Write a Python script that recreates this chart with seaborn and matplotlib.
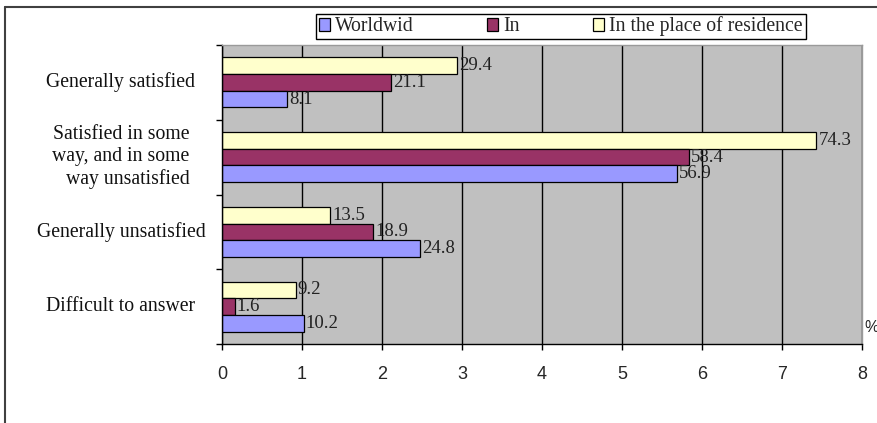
import numpy as np
import pandas as pd
import matplotlib
matplotlib.use("Agg")
import matplotlib.pyplot as plt
from matplotlib.patches import Patch
from matplotlib.lines import Line2D
from matplotlib.transforms import blended_transform_factory
import seaborn as sns

# Survey answers and the three series (percent)
categories = [
    "Generally satisfied",
    "Satisfied in some\nway, and in some\nway unsatisfied",
    "Generally unsatisfied",
    "Difficult to answer",
]
series_names = ["Worldwid", "In", "In the place of residence"]
worldwid = [8.1, 56.9, 24.8, 10.2]
in_country = [21.1, 58.4, 18.9, 1.6]
residence = [29.4, 74.3, 13.5, 9.2]
x_tick_values = [0, 10, 20, 30, 40, 50, 60, 70, 80]
x_tick_labels = ["0", "1", "2", "3", "4", "5", "6", "7", "8"]
colors = {"Worldwid": "#9999FF", "In": "#993366", "In the place of residence": "#FFFFCC"}

df = pd.DataFrame({
    "category": categories * 3,
    "series": [series_names[0]] * 4 + [series_names[1]] * 4 + [series_names[2]] * 4,
    "value": worldwid + in_country + residence,
})

sns.set_theme(style="white")
serif = "Liberation Serif"
sans = "Liberation Sans"

W, H = 877, 423
fig = plt.figure(figsize=(W / 100, H / 100), dpi=100)
fig.patch.set_facecolor("white")
ax = fig.add_axes([222 / W, 1 - 344 / H, 640 / W, 299 / H])
ax.set_facecolor("#C0C0C0")

sns.barplot(
    data=df, y="category", x="value", hue="series",
    order=categories, hue_order=series_names[::-1],
    palette=colors, orient="h", width=0.67, saturation=1,
    edgecolor="black", linewidth=0.9, errorbar=None, legend=False, ax=ax,
)

# value labels at the end of each bar
for cont in ax.containers:
    ax.bar_label(cont, fmt="%.1f", padding=1.5, family=serif, fontsize=13.5, color="#222222")

# x axis: 0..8 scale
ax.set_xlim(0, 80)
ax.set_xticks(x_tick_values)
ax.set_xticklabels(x_tick_labels, family=sans, fontsize=13)
ax.xaxis.grid(True, color="black", linewidth=1.0)
ax.yaxis.grid(False)
ax.set_axisbelow(True)
ax.tick_params(axis="x", which="major", length=4.5, width=1, color="black",
               direction="out", pad=11, bottom=True)
ax.set_xlabel("")
ax.set_ylabel("")

# y axis: boundary ticks between groups, labels placed separately
ax.set_ylim(3.5, -0.5)
ax.set_yticks(range(len(categories)))
ax.set_yticklabels([])
ax.set_yticks(np.arange(-0.5, len(categories), 1), minor=True)
ax.tick_params(axis="y", which="major", length=0, left=False)
ax.tick_params(axis="y", which="minor", length=4, width=1, color="black",
               direction="out", left=True)

trans = blended_transform_factory(fig.transFigure, ax.transData)
for i, cat in enumerate(categories):
    ax.text(121 / W, i, cat, transform=trans, ha="center", va="center",
            multialignment="right", family=serif, fontsize=14.2,
            linespacing=1.2, color="#111111")

for side in ["left", "bottom"]:
    ax.spines[side].set_color("black")
    ax.spines[side].set_linewidth(1.0)
for side in ["top", "right"]:
    ax.spines[side].set_color("#9a9a9a")
    ax.spines[side].set_linewidth(1.0)

# legend across the top
handles = [Patch(facecolor=colors[s], edgecolor="black", linewidth=0.9) for s in series_names]
leg = fig.legend(
    handles, series_names, loc="center", bbox_to_anchor=(561 / W, 1 - 26.5 / H),
    ncol=3, frameon=True, fancybox=False, framealpha=1, edgecolor="black",
    prop={"family": serif, "size": 14.2}, handlelength=0.57, handleheight=0.57,
    handletextpad=0.26, columnspacing=3.7, borderpad=0.15, borderaxespad=0,
)
leg.get_frame().set_linewidth(1.0)

fig.text(864 / W, 1 - 327 / H, "%", family=sans, fontsize=11.5, ha="left", va="center")

# outer chart frame (left and top edges)
fig.add_artist(Line2D([5 / W, 5 / W], [0, 1 - 7 / H], transform=fig.transFigure,
                      color="#404040", linewidth=1.5))
fig.add_artist(Line2D([5 / W, 1], [1 - 7 / H, 1 - 7 / H], transform=fig.transFigure,
                      color="#404040", linewidth=1.5))

fig.savefig("out.png", dpi=100)
